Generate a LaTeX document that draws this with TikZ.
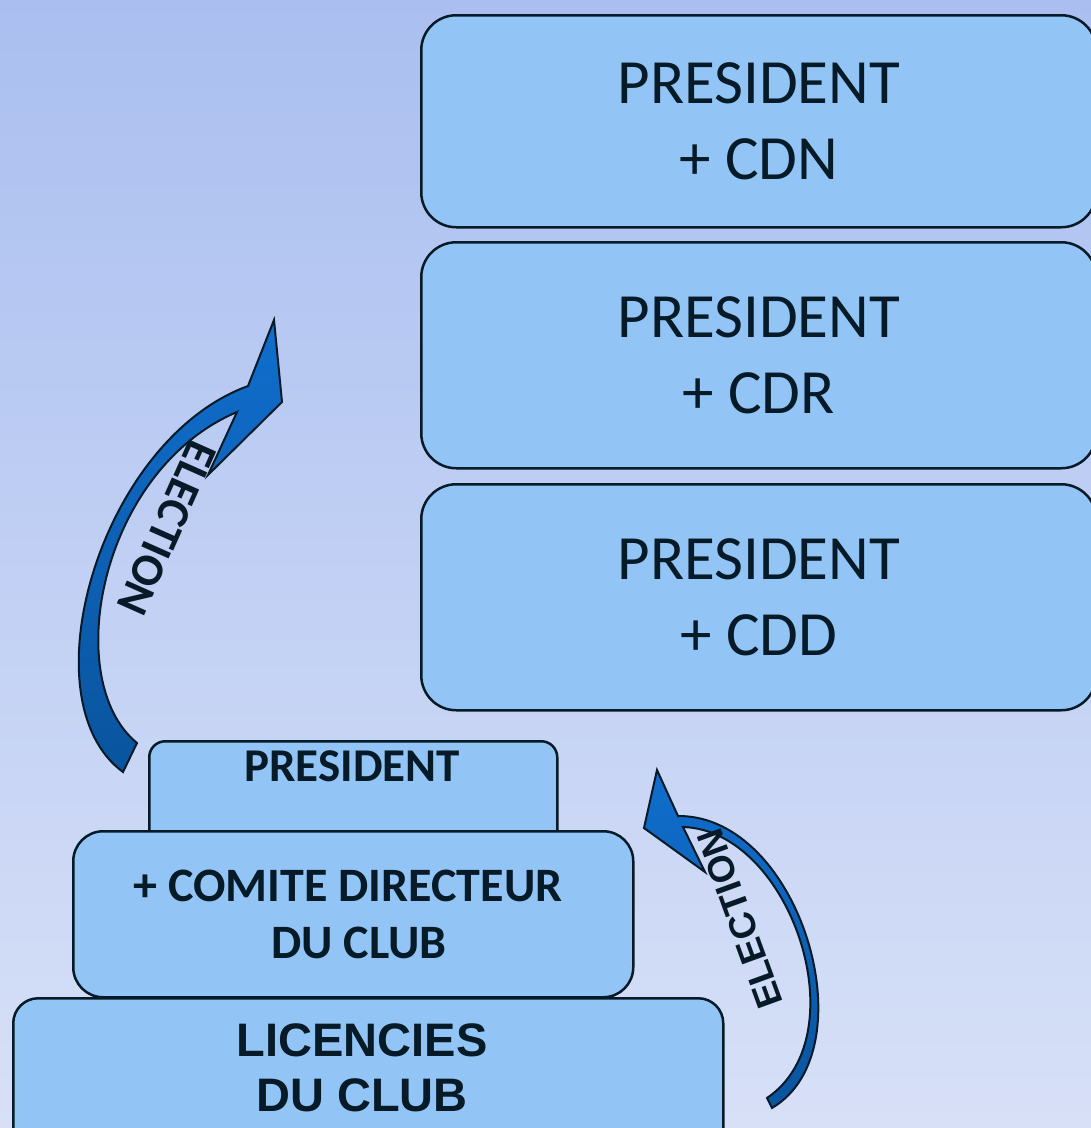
\documentclass[tikz,border=0pt]{standalone}
\usepackage{fontspec}
\setmainfont{Carlito}
\newfontfamily\lib{Liberation Sans}
\definecolor{ink}{RGB}{6,26,40}
\definecolor{boxfill}{RGB}{146,197,245}
\definecolor{bgtop}{RGB}{170,191,240}
\definecolor{bgbot}{RGB}{215,224,247}
\definecolor{arrtop}{RGB}{16,110,205}
\definecolor{arrbot}{RGB}{10,84,158}
\tikzset{
  box/.style={draw=ink, line width=2.5pt, fill=boxfill, inner sep=0pt, anchor=north west, text=ink},
  bigbox/.style={box, rounded corners=35pt, minimum width=675pt, minimum height=212pt, align=center, font=\fontsize{63}{76}\selectfont},
  arrowshape/.style={draw=ink, line width=2pt, line join=miter, top color=arrtop, bottom color=arrbot},
  txt/.style={text=ink, inner sep=0pt, align=center}
}
\begin{document}
\begin{tikzpicture}[x=1pt,y=-1pt]
\useasboundingbox (0,0) rectangle (1091,1128);
\shade[top color=bgtop, bottom color=bgbot] (0,0) rectangle (1091,1128);

% right column
\node[bigbox] (cdn) at (420,14) {PRESIDENT\\+ CDN};
\node[bigbox, minimum height=226pt] (cdr) at (420,241) {PRESIDENT\\+ CDR};
\node[bigbox, minimum height=226pt] (cdd) at (420,483) {PRESIDENT\\+ CDD};

% pyramid
\node[box, rounded corners=16pt, minimum width=408pt, minimum height=130pt] (pres) at (148,740) {};
\node[txt, font=\fontsize{47}{56}\selectfont\bfseries] (prest) at (352,766) {PRESIDENT};
\node[box, rounded corners=30pt, minimum width=560pt, minimum height=166pt] (comite) at (72,830) {};
\node[txt, font=\fontsize{48}{57}\selectfont\bfseries] (comitet) at (348,914) {+ COMITE DIRECTEUR\\\hspace*{22pt}DU CLUB};
\node[box, rounded corners=25pt, minimum width=710pt, minimum height=160pt] (lic) at (12,997) {};
\node[txt, font=\lib\fontsize{47}{55}\selectfont\bfseries] (lict) at (362,1068) {LICENCIES\\DU CLUB};

% left arrow
\path[arrowshape] (123,772) .. controls (25,700) and (100,440) .. (248,386)
  -- (274,320) -- (282,402) -- (208,475) -- (237,412)
  .. controls (100,470) and (60,680) .. (137,743) -- cycle;
\node[txt, rotate=-114, font=\fontsize{46}{54}\selectfont\bfseries] (el1) at (167,528) {ELECTION};

% right arrow
\path[arrowshape] (678,816) -- (657,770) -- (644,828) -- (705,872) -- (683,827)
  .. controls (790,830) and (860,1035) .. (767,1098)
  -- (772,1108) .. controls (870,1050) and (800,815) .. (678,816) -- cycle;
\node[txt, rotate=110, font=\lib\fontsize{37}{44}\selectfont\bfseries] (el2) at (740,919) {ELECTION};
\end{tikzpicture}
\end{document}
